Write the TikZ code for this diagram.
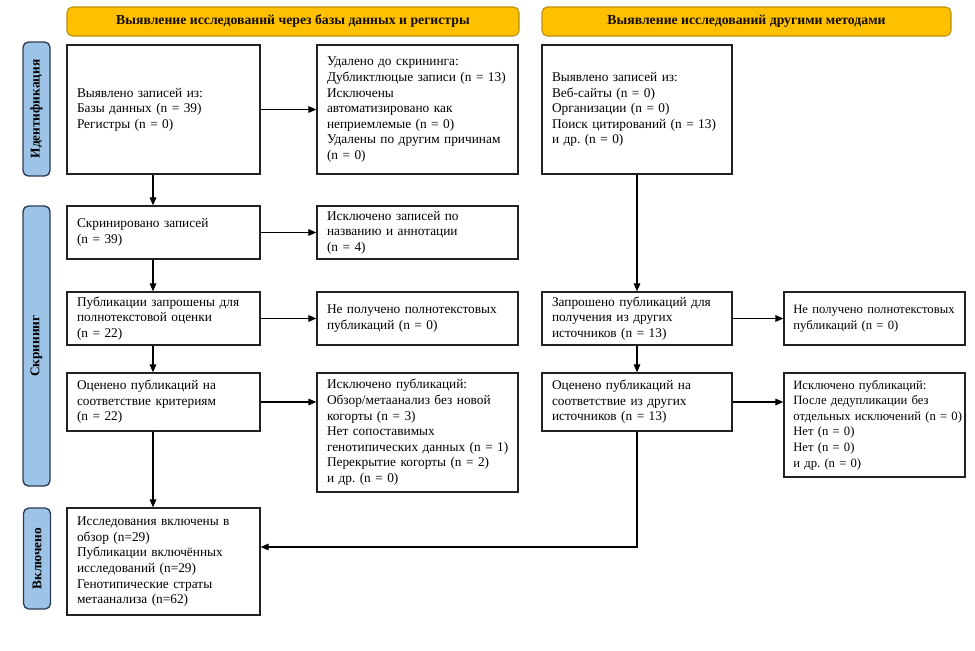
\documentclass[tikz,border=0pt]{standalone}
\usepackage{fontspec}
\usepackage{graphicx}
\setmainfont{Liberation Serif}
\usetikzlibrary{arrows.meta}
\definecolor{hdrfill}{HTML}{FFC000}
\definecolor{hdrdraw}{HTML}{B8900A}
\definecolor{sidefill}{HTML}{9DC3E6}
\definecolor{sidedraw}{HTML}{2B3A55}
\definecolor{boxdraw}{HTML}{222222}
\newcommand{\ltab}[1]{\begin{tabular}{@{}l@{}}#1\end{tabular}}
\frenchspacing
\begin{document}
\begin{tikzpicture}[x=0.75pt,y=-0.75pt,
  box/.style={draw=boxdraw, line width=1pt, fill=white, align=left, inner xsep=7.5pt, inner ysep=0pt,
    font=\fontsize{10}{11.7}\selectfont, anchor=center},
  boxL/.style={box, minimum width=144.75pt, text width=129.75pt},
  boxB/.style={box, minimum width=150.75pt, text width=135.75pt},
  boxC/.style={box, minimum width=142.5pt, text width=127.5pt},
  boxR/.style={box, minimum width=135.75pt, text width=121.75pt, inner xsep=7pt, font=\fontsize{9.5}{11.7}\selectfont},
  hdr/.style={draw=hdrdraw, fill=hdrfill, rounded corners=4pt, line width=0.8pt,
    minimum height=21.75pt, inner sep=0pt, font=\bfseries\fontsize{10.3}{12}\selectfont, text=black!90!brown},
  side/.style={draw=sidedraw, fill=sidefill, rounded corners=4pt, line width=1pt, rotate=90,
    minimum height=20.25pt, inner sep=0pt, font=\bfseries\fontsize{10}{12}\selectfont},
  arr/.style={-{Triangle[length=6pt,width=5pt]}, line width=0.8pt, draw=black}
]
\useasboundingbox (0,0) rectangle (975,650);

% headers
\node[hdr, minimum width=339pt] (hdrL) at (293,21.5) {Выявление исследований через базы данных и регистры};
\node[hdr, minimum width=306.75pt] (hdrR) at (746.5,21.5) {Выявление исследований другими методами};

% side labels
\node[side, minimum width=100.5pt] (sideId) at (36.5,109) {Идентификация};
\node[side, minimum width=210pt] (sideScr) at (36.5,346) {Скрининг};
\node[side, minimum width=75.75pt] (sideInc) at (37,558.5) {Включено};

% left column
\node[boxL, minimum height=96.75pt] (A) at (163.5,109.5) {\ltab{Выявлено записей из:\\ Базы данных (n = 39)\\ Регистры (n = 0)}};
\node[boxB, minimum height=96.75pt] (B) at (417.5,109.5) {\ltab{Удалено до скрининга:\\ Дубликтлюцые записи (n = 13)\\ Исключены\\ автоматизировано как\\ неприемлемые (n = 0)\\ Удалены по другим причинам\\ (n = 0)}};
\node[boxC, minimum height=96.75pt] (C) at (637,109.5) {\ltab{Выявлено записей из:\\ Веб-сайты (n = 0)\\ Организации (n = 0)\\ Поиск цитирований (n = 13)\\ и др. (n = 0)}};

\node[boxL, minimum height=39.75pt] (D) at (163.5,232.5) {\ltab{Скринировано записей\\ (n = 39)}};
\node[boxB, minimum height=39.75pt] (E) at (417.5,232.5) {\ltab{Исключено записей по\\ названию и аннотации\\ (n = 4)}};

\node[boxL, minimum height=39.75pt] (F) at (163.5,318.5) {\ltab{Публикации запрошены для\\ полнотекстовой оценки\\ (n = 22)}};
\node[boxB, minimum height=39.75pt] (G) at (417.5,318.5) {\ltab{Не получено полнотекстовых\\ публикаций (n = 0)}};
\node[boxC, minimum height=39.75pt] (K) at (637,318.5) {\ltab{Запрошено публикаций для\\ получения из других\\ источников (n = 13)}};
\node[boxR, minimum height=39.75pt] (L) at (874.5,318.5) {\ltab{Не получено полнотекстовых\\ публикаций (n = 0)}};

\node[boxL, minimum height=43.5pt] (H) at (163.5,402) {\ltab{Оценено публикаций на\\ соответствие критериям\\ (n = 22)}};
\node[boxB, minimum height=89.25pt] (I) at (417.5,432.5) {\ltab{Исключено публикаций:\\ Обзор/метаанализ без новой\\ когорты (n = 3)\\ Нет сопоставимых\\ генотипических данных (n = 1)\\ Перекрытие когорты (n = 2)\\ и др. (n = 0)}};
\node[boxC, minimum height=43.5pt] (M) at (637,402) {\ltab{Оценено публикаций на\\ соответствие из других\\ источников (n = 13)}};
\node[boxR, minimum height=78pt] (N) at (874.5,425) {\ltab{Исключено публикаций:\\ После дедупликации без\\ отдельных исключений (n = 0)\\ Нет (n = 0)\\ Нет (n = 0)\\ и др. (n = 0)}};

\node[boxL, minimum height=80.25pt] (J) at (163.5,561.5) {\ltab{Исследования включены в\\ обзор (n=29)\\ Публикации включённых\\ исследований (n=29)\\ Генотипические страты\\ метаанализа (n=62)}};

% connectors
\coordinate (vx) at (153,0);
\coordinate (turn) at (637,547);
\draw[arr] (A.south -| vx) -- (D.north -| vx);
\draw[arr] (D.south -| vx) -- (F.north -| vx);
\draw[arr] (F.south -| vx) -- (H.north -| vx);
\draw[arr] (H.south -| vx) -- (J.north -| vx);
\draw[arr] (A.east) -- (B.west);
\draw[arr] (D.east) -- (E.west);
\draw[arr] (F.east) -- (G.west);
\draw[arr] (H.east) -- (H.east -| I.west);
\draw[arr] (C.south) -- (K.north);
\draw[arr] (K.south) -- (M.north);
\draw[arr] (K.east) -- (L.west);
\draw[arr] (M.east) -- (M.east -| N.west);
\draw[arr] (M.south) -- (turn) -- (turn -| J.east);
\end{tikzpicture}
\end{document}
